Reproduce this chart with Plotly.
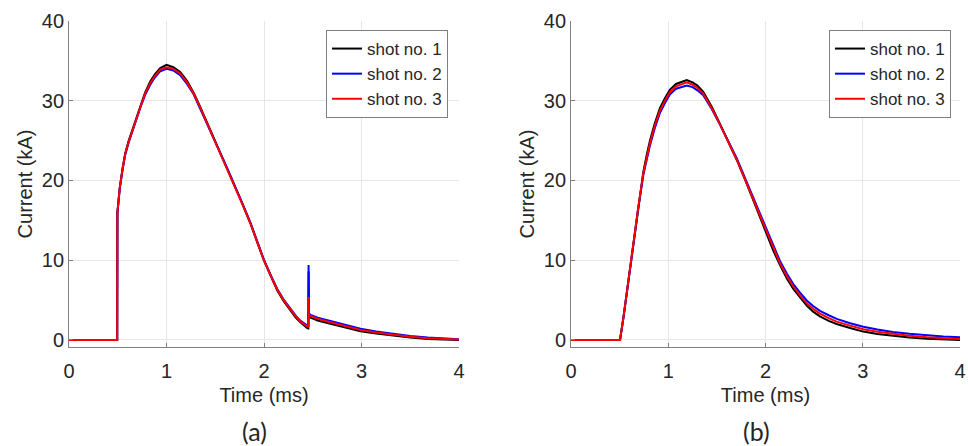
import plotly.graph_objects as go

# ---------------- Panel (a) data ----------------
time_a = [0, 0.25, 0.494, 0.496, 0.505, 0.52, 0.55, 0.576, 0.61, 0.645, 0.69, 0.73, 0.78,
          0.833, 0.88, 0.936, 1.0, 1.07, 1.14, 1.21, 1.278, 1.347, 1.416, 1.485, 1.553,
          1.62, 1.69, 1.775, 1.861, 1.93, 1.998, 2.07, 2.136, 2.2, 2.272, 2.325, 2.375,
          2.41, 2.444, 2.455, 2.457, 2.46, 2.478, 2.55, 2.64, 2.718, 2.85, 2.99, 3.15,
          3.335, 3.5, 3.68, 3.85, 4.0]

shot1_a = [0, 0, 0, 15.9, 17.0, 19.0, 21.6, 23.4, 24.9, 26.2, 27.9, 29.4, 31.0,
           32.4, 33.3, 34.1, 34.5, 34.2, 33.6, 32.5, 31.0, 29.2, 27.3, 25.3, 23.5,
           21.6, 19.7, 17.2, 14.6, 12.3, 10.0, 8.0, 6.2, 4.9, 3.6, 2.8, 2.2,
           1.8, 1.5, 1.45, 8.6, 2.9, 2.8, 2.45, 2.15, 1.9, 1.5, 1.1, 0.8,
           0.5, 0.3, 0.12, 0.05, 0.0]

shot2_a = [0, 0, 0, 15.9, 17.0, 19.0, 21.4, 23.2, 24.7, 26.0, 27.7, 29.1, 30.7,
           32.0, 32.9, 33.7, 34.0, 33.8, 33.2, 32.1, 30.8, 29.0, 27.1, 25.2, 23.4,
           21.6, 19.7, 17.2, 14.7, 12.4, 10.1, 8.1, 6.4, 5.1, 3.9, 3.05, 2.4,
           2.05, 1.75, 1.7, 9.4, 3.3, 3.15, 2.8, 2.5, 2.25, 1.8, 1.4, 1.05,
           0.75, 0.5, 0.3, 0.18, 0.1]

shot3_a = [0, 0, 0, 15.9, 17.0, 19.0, 21.5, 23.3, 24.8, 26.1, 27.8, 29.3, 30.9,
           32.2, 33.1, 33.9, 34.2, 34.0, 33.4, 32.3, 30.9, 29.1, 27.2, 25.2, 23.4,
           21.5, 19.6, 17.1, 14.6, 12.3, 10.0, 8.0, 6.3, 5.0, 3.76, 2.95, 2.3,
           1.95, 1.67, 1.6, 5.4, 3.1, 3.0, 2.65, 2.35, 2.1, 1.65, 1.25, 0.93,
           0.63, 0.4, 0.22, 0.12, 0.05]

# ---------------- Panel (b) data ----------------
time_b = [0, 0.25, 0.504, 0.54, 0.573, 0.6, 0.624, 0.66, 0.692, 0.744, 0.78, 0.812, 0.86,
          0.915, 0.97, 1.018, 1.08, 1.155, 1.19, 1.25, 1.30, 1.36, 1.45, 1.532, 1.62,
          1.704, 1.79, 1.875, 1.94, 2.012, 2.08, 2.149, 2.22, 2.286, 2.355, 2.424, 2.49,
          2.56, 2.65, 2.732, 2.87, 3.006, 3.15, 3.31, 3.48, 3.66, 3.83, 4.0]

shot1_b = [0, 0, 0, 2.9, 5.85, 8.5, 10.9, 14.0, 16.8, 21.1, 23.3, 25.0, 27.1,
           29.1, 30.4, 31.4, 32.1, 32.5, 32.6, 32.3, 31.9, 31.1, 29.2, 27.1, 24.9,
           22.6, 20.1, 17.5, 15.4, 13.2, 11.2, 9.4, 7.7, 6.4, 5.3, 4.3, 3.55,
           2.95, 2.4, 2.0, 1.5, 1.05, 0.75, 0.5, 0.3, 0.15, 0.05, 0.0]

shot2_b = [0, 0, 0, 2.9, 5.85, 8.5, 10.9, 14.0, 16.6, 20.7, 22.7, 24.4, 26.5,
           28.5, 29.8, 30.8, 31.5, 31.8, 31.9, 31.7, 31.3, 30.7, 28.9, 27.0, 24.9,
           22.8, 20.3, 17.8, 15.8, 13.7, 11.7, 9.9, 8.3, 7.0, 5.95, 4.95, 4.25,
           3.65, 3.1, 2.65, 2.1, 1.65, 1.3, 1.0, 0.78, 0.58, 0.45, 0.35]

shot3_b = [0, 0, 0, 2.9, 5.85, 8.5, 10.9, 14.0, 16.7, 20.9, 23.0, 24.7, 26.8,
           28.8, 30.1, 31.1, 31.8, 32.2, 32.3, 32.0, 31.6, 30.9, 29.0, 27.0, 24.8,
           22.6, 20.1, 17.6, 15.5, 13.4, 11.4, 9.6, 8.0, 6.7, 5.6, 4.6, 3.9,
           3.3, 2.75, 2.3, 1.8, 1.35, 1.02, 0.75, 0.52, 0.33, 0.2, 0.12]

series_names = ["shot no. 1", "shot no. 2", "shot no. 3"]
series_colors = ["#000000", "#0000ff", "#ff0000"]
x_ticks = [0, 1, 2, 3, 4]
y_ticks = [0, 10, 20, 30, 40]
x_title = "Time (ms)"
y_title = "Current (kA)"
panel_labels = ["(a)", "(b)"]

fig = go.Figure()
for ys, nm, col in zip([shot1_a, shot2_a, shot3_a], series_names, series_colors):
    fig.add_trace(go.Scatter(x=time_a, y=ys, mode="lines", name=nm,
                             line=dict(color=col, width=2), xaxis="x", yaxis="y",
                             legend="legend"))
for ys, nm, col in zip([shot1_b, shot2_b, shot3_b], series_names, series_colors):
    fig.add_trace(go.Scatter(x=time_b, y=ys, mode="lines", name=nm,
                             line=dict(color=col, width=2), xaxis="x2", yaxis="y2",
                             legend="legend2"))

FONT = "Liberation Sans, Arial, sans-serif"
TXT = "#262626"
AX = "#7f7f7f"
GRID = "#e6e6e6"

def xaxis(domain, anchor):
    return dict(domain=domain, anchor=anchor, range=[0, 4], tickvals=x_ticks,
                showline=True, linecolor=AX, linewidth=1, mirror=False,
                ticks="inside", ticklen=4, tickcolor=AX, automargin=False,
                ticklabelstandoff=6,
                showgrid=True, gridcolor=GRID, zeroline=False,
                tickfont=dict(family=FONT, size=20, color=TXT),
                title=dict(text=x_title, font=dict(family=FONT, size=20, color=TXT), standoff=7))

def yaxis(domain, anchor):
    return dict(domain=domain, anchor=anchor, range=[-0.88, 40], tickvals=y_ticks,
                showline=True, linecolor=AX, linewidth=1, mirror=False,
                ticks="inside", ticklen=4, tickcolor=AX, automargin=False,
                showgrid=True, gridcolor=GRID, zeroline=False,
                tickfont=dict(family=FONT, size=20, color=TXT),
                title=dict(text=y_title, font=dict(family=FONT, size=20, color=TXT), standoff=3))

ydom = [0.222, 0.953]
leg_common = dict(xanchor="right", yanchor="top", y=0.9327,
                  bordercolor=AX, borderwidth=1, bgcolor="white",
                  font=dict(family=FONT, size=17, color=TXT), tracegroupgap=0)

fig.update_layout(
    width=968, height=446, margin=dict(l=0, r=0, t=0, b=0, autoexpand=False),
    paper_bgcolor="white", plot_bgcolor="white",
    xaxis=xaxis([0.0713, 0.4742], "y"),
    yaxis=yaxis(ydom, "x"),
    xaxis2=xaxis([0.5899, 0.9917], "y2"),
    yaxis2=yaxis(ydom, "x2"),
    legend=dict(x=0.4628, **leg_common),
    legend2=dict(x=0.9824, **leg_common),
    showlegend=True,
    annotations=[
        dict(text=panel_labels[0], x=0.2624, y=0.0, xref="paper", yref="paper",
             showarrow=False, xanchor="center", yanchor="bottom", yshift=-2,
             font=dict(family="Lato, Open Sans, sans-serif", size=25, color=TXT)),
        dict(text=panel_labels[1], x=0.782, y=0.0, xref="paper", yref="paper",
             showarrow=False, xanchor="center", yanchor="bottom", yshift=-2,
             font=dict(family="Lato, Open Sans, sans-serif", size=25, color=TXT)),
    ],
)

fig.write_html("out.html", config={"displayModeBar": False},
               post_script="document.body.style.margin='0';document.body.style.overflow='hidden';")
